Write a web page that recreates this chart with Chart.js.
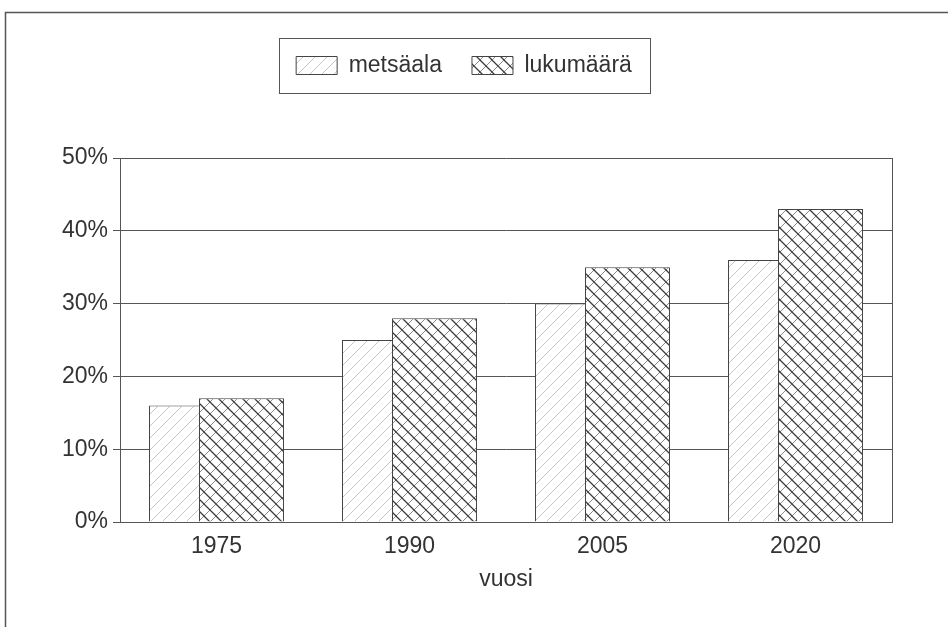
<!DOCTYPE html>
<html>
<head>
<meta charset="utf-8">
<script src="https://cdn.jsdelivr.net/npm/chart.js@4/dist/chart.umd.min.js"></script>
<style>
  body { margin: 0; background: #fff; }
  #wrap { width: 948px; height: 627px; position: relative; }
</style>
</head>
<body>
<div id="wrap"><canvas id="myChart"></canvas></div>
<script>
// Data
const years = ['1975', '1990', '2005', '2020'];
const metsaala = [16, 25, 30, 36];
const lukumaara = [17, 28, 35, 43];
const yMax = 50;
const yStep = 10;

const lineColor = '#555';
const textColor = '#333';
const fontFamily = "'Liberation Sans', Arial, Helvetica, sans-serif";

// hatch patterns
function hatch(dense) {
    const s = 12;
    const c = document.createElement('canvas');
    c.width = s; c.height = s;
    const g = c.getContext('2d');
    g.fillStyle = '#fff';
    g.fillRect(0, 0, s, s);
    // '/' lines
    g.strokeStyle = dense ? '#8a8a8a' : '#c6c6c6';
    g.lineWidth = 1;
    g.beginPath();
    g.moveTo(0, s); g.lineTo(s, 0);
    g.moveTo(-1, 1); g.lineTo(1, -1);
    g.moveTo(s - 1, s + 1); g.lineTo(s + 1, s - 1);
    g.stroke();
    if (dense) {
        // '\' lines
        g.strokeStyle = '#3c3c3c';
        g.lineWidth = 1.3;
        g.beginPath();
        g.moveTo(0, 0); g.lineTo(s, s);
        g.moveTo(-1, s - 1); g.lineTo(1, s + 1);
        g.moveTo(s - 1, -1); g.lineTo(s + 1, 1);
        g.stroke();
    }
    return g.createPattern(c, 'repeat');
}

// legend: fixed height + frame
const legendBox = {
    id: 'legendBox',
    beforeInit(chart) {
        const fit = chart.legend.fit;
        chart.legend.fit = function () {
            fit.bind(chart.legend)();
            this.height = 134;
        };
    },
    afterLayout(chart) {
        const l = chart.legend;
        const dx = 464 - (l.left + l.right) / 2;
        l.left += dx;
        l.right += dx;
    },
    afterDraw(chart) {
        const ctx = chart.ctx;
        const hb = chart.legend.legendHitBoxes;
        if (!hb || !hb.length) return;
        const first = hb[0], last = hb[hb.length - 1];
        const x0 = Math.round(first.left - 17) + 0.5;
        const x1 = Math.round(last.left + last.width + 18) + 0.5;
        const y0 = Math.round(first.top - 16) + 0.5;
        const y1 = Math.round(first.top + first.height + 16) + 0.5;
        ctx.save();
        ctx.strokeStyle = lineColor;
        ctx.lineWidth = 1;
        ctx.strokeRect(x0, y0, x1 - x0, y1 - y0);
        ctx.restore();
    }
};

// outer frame + right border of plot
const frame = {
    id: 'frame',
    afterDraw(chart) {
        const ctx = chart.ctx;
        const a = chart.chartArea;
        ctx.save();
        ctx.strokeStyle = lineColor;
        ctx.lineWidth = 1.5;
        ctx.beginPath();
        ctx.moveTo(5.5, chart.height);
        ctx.lineTo(5.5, 12.5);
        ctx.lineTo(chart.width, 12.5);
        ctx.stroke();
        ctx.lineWidth = 1;
        ctx.beginPath();
        ctx.moveTo(Math.round(a.right) + 0.5, a.top);
        ctx.lineTo(Math.round(a.right) + 0.5, a.bottom);
        ctx.stroke();
        ctx.restore();
    }
};

// draw metsäala first so lukumäärä overlaps it
const drawOrder = {
    id: 'drawOrder',
    beforeDatasetsDraw(chart) {
        const ctx = chart.ctx;
        const a = chart.chartArea;
        ctx.save();
        ctx.beginPath();
        ctx.rect(a.left, a.top - 2, a.right - a.left, a.bottom - a.top + 2);
        ctx.clip();
        chart.getDatasetMeta(0).controller.draw();
        chart.getDatasetMeta(1).controller.draw();
        ctx.restore();
        return false;
    }
};

const ctx = document.getElementById('myChart').getContext('2d');

const myChart = new Chart(ctx, {
    type: 'bar',
    data: {
        labels: years,
        datasets: [{
            label: 'metsäala',
            data: metsaala,
            backgroundColor: hatch(false),
            borderColor: '#444',
            borderWidth: 1
        }, {
            label: 'lukumäärä',
            data: lukumaara,
            backgroundColor: hatch(true),
            borderColor: '#444',
            borderWidth: 1
        }]
    },
    options: {
        responsive: true,
        maintainAspectRatio: false,
        animation: false,
        categoryPercentage: 0.518,
        barPercentage: 1.7,
        layout: {
            padding: { left: 0, right: 56, top: 24, bottom: 0 }
        },
        plugins: {
            legend: {
                position: 'top',
                labels: {
                    boxWidth: 41,
                    boxHeight: 18,
                    padding: 30,
                    color: textColor,
                    font: { family: fontFamily, size: 23 }
                }
            },
            tooltip: { enabled: false }
        },
        scales: {
            x: {
                grid: { display: false, drawTicks: false },
                border: { display: true, color: lineColor },
                ticks: {
                    padding: 11,
                    color: textColor,
                    font: { family: fontFamily, size: 23 }
                },
                title: {
                    display: true,
                    text: 'vuosi',
                    color: textColor,
                    font: { family: fontFamily, size: 23 },
                    padding: { top: 4, bottom: 34 }
                },
                afterFit(s) { s.height = 105; }
            },
            y: {
                min: 0,
                max: yMax,
                grid: { color: lineColor, lineWidth: 1, tickLength: 7 },
                border: { display: true, color: lineColor },
                ticks: {
                    stepSize: yStep,
                    padding: 5,
                    color: textColor,
                    font: { family: fontFamily, size: 23 },
                    callback: (v) => v + '%'
                },
                afterFit(s) { s.width = 120; }
            }
        }
    },
    plugins: [legendBox, frame, drawOrder]
});
</script>
</body>
</html>
